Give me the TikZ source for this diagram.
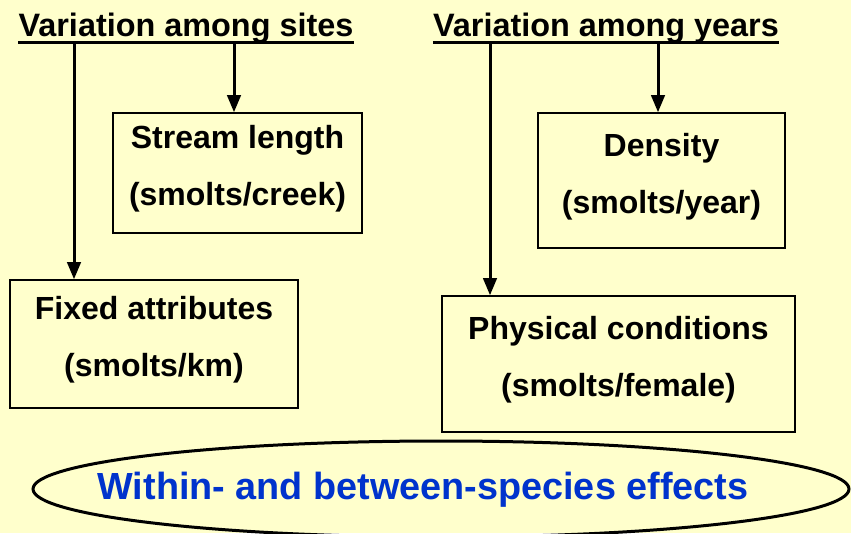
\documentclass[tikz,border=0pt]{standalone}
\usepackage{fontspec}
\setmainfont{Liberation Sans}
\usetikzlibrary{shapes.geometric, arrows, positioning}
\definecolor{paleyellow}{RGB}{255,255,204}
\definecolor{effectblue}{RGB}{0,51,204}
\newcommand{\boxfont}{\fontsize{32}{57}\selectfont\bfseries}
\newcommand{\headfont}{\fontsize{32.4}{38}\selectfont\bfseries}

\tikzset{
  box/.style={draw, line width=2pt, align=center, font=\boxfont, inner sep=0pt, text depth=15pt},
  head/.style={font=\headfont, inner sep=0pt, anchor=base},
  feed/.style={-triangle 45, line width=3pt},
  underl/.style={line width=3pt}
}

\begin{document}
\begin{tikzpicture}[x=1pt, y=-1pt]

% Background
\fill[paleyellow] (0,0) rectangle (851,533);
\useasboundingbox (0,0) rectangle (851,533);

% Headings
\node[head] (sites) at (186,36) {Variation among sites};
\node[head] (years) at (606,36) {Variation among years};
\draw[underl] ([yshift=-6pt]sites.base west) -- ([yshift=-6pt]sites.base east);
\draw[underl] ([yshift=-6pt]years.base west) -- ([yshift=-6pt]years.base east);

% Boxes
\node[box, minimum width=249pt, minimum height=120pt] (stream) at (237.5,173) {Stream length\\(smolts/creek)};
\node[box, minimum width=288pt, minimum height=128pt] (fixed) at (154,344) {Fixed attributes\\(smolts/km)};
\node[box, minimum width=247pt, minimum height=135pt] (density) at (661.5,180.5) {Density\\(smolts/year)};
\node[box, minimum width=353pt, minimum height=136pt] (physical) at (618.5,364) {Physical conditions\\(smolts/female)};

% Arrows from headings
\coordinate (sitesL) at (74,42);
\coordinate (sitesR) at (234,42);
\coordinate (yearsL) at (490,42);
\coordinate (yearsR) at (658,42);
\draw[feed] (sitesL) -- (sitesL |- fixed.north);
\draw[feed] (sitesR) -- (sitesR |- stream.north);
\draw[feed] (yearsL) -- (yearsL |- physical.north);
\draw[feed] (yearsR) -- (yearsR |- density.north);

% Species effects
\node[ellipse, draw, line width=3pt, minimum width=816pt, minimum height=96pt] (effects) at (441,489) {};
\node[font=\fontsize{37.8}{44}\selectfont\bfseries, text=effectblue] (effectstext) at ([xshift=-18pt, yshift=-1pt]effects.center) {Within- and between-species effects};

\end{tikzpicture}
\end{document}
